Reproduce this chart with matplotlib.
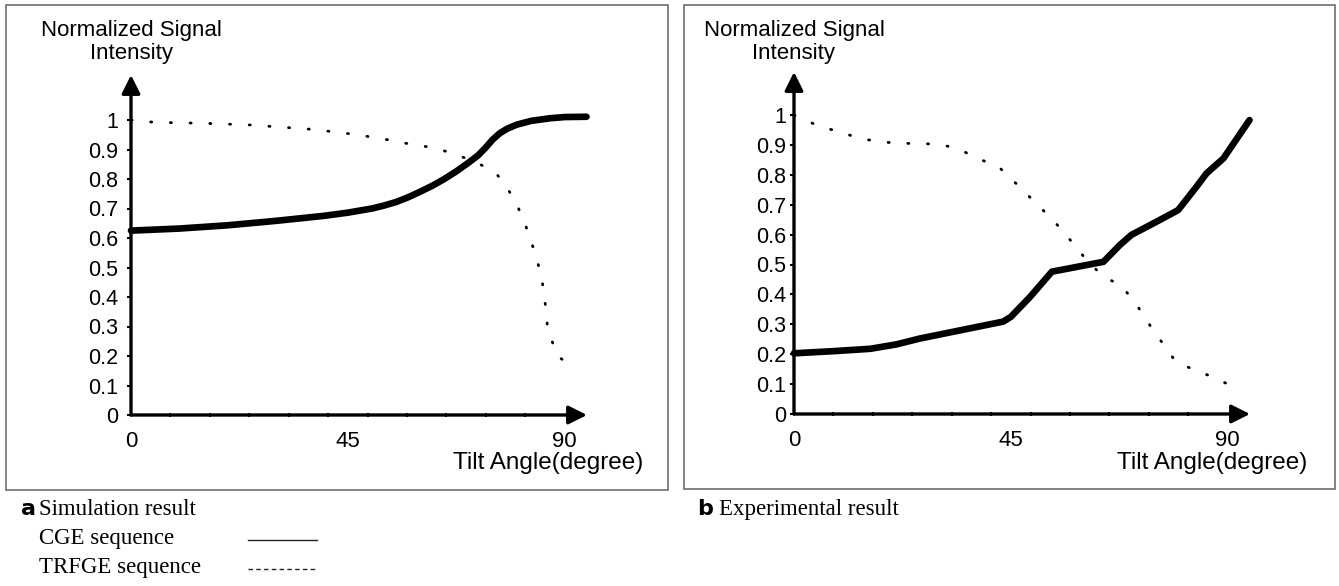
import numpy as np
import matplotlib
matplotlib.use("Agg")
import matplotlib.pyplot as plt
from matplotlib.patches import Rectangle
from matplotlib.lines import Line2D

plt.rcParams['font.family'] = ['Liberation Sans', 'DejaVu Sans']

# ---------------- data ----------------
# Panel a : simulation
sim_cge_x = [0, 10, 20, 30, 40, 45, 50, 52.5, 55, 57.5, 60, 62.5, 65, 67.5, 70, 72,
             73.5, 75, 76.5, 78, 80, 83, 87, 90, 94.5]
sim_cge_y = [0.625, 0.632, 0.643, 0.658, 0.675, 0.686, 0.700, 0.710, 0.722, 0.738,
             0.757, 0.777, 0.800, 0.826, 0.855, 0.880, 0.905, 0.933, 0.955, 0.970,
             0.984, 0.997, 1.006, 1.010, 1.011]
sim_trfge_x = [0, 5, 15, 25, 30, 37, 42, 46, 50, 54, 58, 62, 66, 69.5, 73, 76, 78,
               80, 81.6, 83, 84.2, 85.2, 85.8, 86.4, 88.3, 91.2]
sim_trfge_y = [1.0, 0.992, 0.989, 0.983, 0.977, 0.969, 0.960, 0.952, 0.942, 0.931,
               0.918, 0.908, 0.891, 0.870, 0.845, 0.814, 0.771, 0.715, 0.655, 0.590,
               0.528, 0.465, 0.40, 0.30, 0.202, 0.168]

# Panel b : experiment
exp_cge_x = [0, 8, 15.8, 21.3, 26, 33, 43.4, 45, 49, 53.5, 64.2, 67.6, 70, 75.9,
             79.7, 83.5, 85.6, 89.1, 94.5]
exp_cge_y = [0.203, 0.210, 0.218, 0.233, 0.252, 0.275, 0.309, 0.325, 0.392, 0.476,
             0.509, 0.565, 0.599, 0.649, 0.682, 0.760, 0.805, 0.855, 0.983]
exp_trfge_x = [0, 5.4, 9.5, 13.5, 17.7, 21.8, 25.9, 29.9, 33.9, 38, 42.3, 46.2, 50.2,
               53.9, 57.3, 60.6, 64, 68, 71.1, 73.7, 76.5, 79.3, 83.2, 87.3, 91.5]
exp_trfge_y = [1.0, 0.961, 0.944, 0.922, 0.911, 0.905, 0.905, 0.902, 0.889, 0.855,
               0.829, 0.769, 0.705, 0.646, 0.582, 0.517, 0.462, 0.428, 0.365, 0.300,
               0.236, 0.173, 0.147, 0.121, 0.088]

y_ticks = [0, 0.1, 0.2, 0.3, 0.4, 0.5, 0.6, 0.7, 0.8, 0.9, 1]
y_ticklabels = ['0', '0.1', '0.2', '0.3', '0.4', '0.5', '0.6', '0.7', '0.8', '0.9', '1']
x_ticks = [0, 45, 90]
x_ticklabels = ['0', '45', '90']
x_minor = list(np.linspace(0, 90, 12))

y_title = 'Normalized Signal\nIntensity'
x_title = 'Tilt Angle(degree)'

# ---------------- figure ----------------
W, H = 1339, 586
fig = plt.figure(figsize=(W / 100, H / 100), dpi=100)


def fx(px):
    return px / W


def fy(py):
    return 1 - py / H


def make_panel(left, right, bottom, top, xmax, ymax, ypad, cge_x, cge_y, tr_x, tr_y):
    ax = fig.add_axes([fx(left), fy(bottom), fx(right) - fx(left), fy(top) - fy(bottom)])
    ax.set_xlim(0, xmax)
    ax.set_ylim(0, ymax)
    for s in ax.spines.values():
        s.set_visible(False)
    ax.patch.set_alpha(0)
    # axis lines with arrowheads
    ax.annotate('', xy=(1, 0), xytext=(0, 0), xycoords='axes fraction',
                arrowprops=dict(arrowstyle='-|>', lw=2.4, color='black',
                                mutation_scale=28, shrinkA=0, shrinkB=0))
    ax.annotate('', xy=(0, 1), xytext=(0, 0), xycoords='axes fraction',
                arrowprops=dict(arrowstyle='-|>', lw=2.4, color='black',
                                mutation_scale=28, shrinkA=0, shrinkB=0))
    ax.set_yticks(y_ticks)
    ax.set_yticklabels(y_ticklabels)
    ax.tick_params(axis='y', direction='out', length=3, width=1.5, pad=ypad,
                   labelsize=15.5)
    ax.set_xticks(x_ticks)
    ax.set_xticklabels(x_ticklabels)
    ax.set_xticks(x_minor, minor=True)
    ax.tick_params(axis='x', which='major', length=0, pad=11.5, labelsize=16)
    ax.tick_params(axis='x', which='minor', direction='inout', length=3, width=1.5)
    ax.plot(cge_x, cge_y, color='black', lw=4.8, solid_capstyle='round',
            solid_joinstyle='round', clip_on=False)
    ax.plot(tr_x, tr_y, color='black', lw=2.0, linestyle=(0, (0.4, 6.7)),
            dash_capstyle='round', clip_on=False)
    return ax


make_panel(131, 587, 415, 75, 456 / 4.82, 340 / 295, 6.5,
           sim_cge_x, sim_cge_y, sim_trfge_x, sim_trfge_y)
make_panel(794, 1250, 414, 72, 456 / 4.82, 342 / 299, 2.5,
           exp_cge_x, exp_cge_y, exp_trfge_x, exp_trfge_y)

# axis titles
for axx, tx_right in [(131, 643), (794, 1307)]:
    fig.text(fx(axx), fy(42), y_title, ha='center', va='center', fontsize=16,
             linespacing=1.12, multialignment='center')
    fig.text(fx(tx_right), fy(463), x_title, ha='right', va='center', fontsize=17.5)

# frames
fig.add_artist(Rectangle((fx(6), fy(490)), fx(668) - fx(6), fy(5) - fy(490),
                         transform=fig.transFigure, fill=False, edgecolor='#6e6e6e', lw=1.2))
fig.add_artist(Rectangle((fx(684), fy(489)), fx(1335) - fx(684), fy(5) - fy(489),
                         transform=fig.transFigure, fill=False, edgecolor='#6e6e6e', lw=1.2))

# captions
serif = ['Liberation Serif', 'DejaVu Serif']
fig.text(fx(21), fy(515), 'a', fontsize=16, fontweight='bold', ha='left', va='baseline',
         family=['DejaVu Sans'])
fig.text(fx(39), fy(515), 'Simulation result', fontsize=16.5, ha='left', va='baseline',
         family=serif)
fig.text(fx(39), fy(544), 'CGE sequence', fontsize=16.5, ha='left', va='baseline',
         family=serif)
fig.text(fx(39), fy(573), 'TRFGE sequence', fontsize=16.5, ha='left', va='baseline',
         family=serif)
fig.add_artist(Line2D([fx(248), fx(317)], [fy(540), fy(540)], transform=fig.transFigure,
                      color='#222222', lw=1.0))
fig.add_artist(Line2D([fx(248), fx(316)], [fy(569), fy(569)], transform=fig.transFigure,
                      color='#222222', lw=1.0, linestyle=(0, (3.2, 2.4))))
fig.text(fx(697), fy(515), 'b', fontsize=16, fontweight='bold', ha='left', va='baseline',
         family=['DejaVu Sans'])
fig.text(fx(719), fy(515), 'Experimental result', fontsize=16.5, ha='left', va='baseline',
         family=serif)

fig.savefig('out.png', dpi=100)
